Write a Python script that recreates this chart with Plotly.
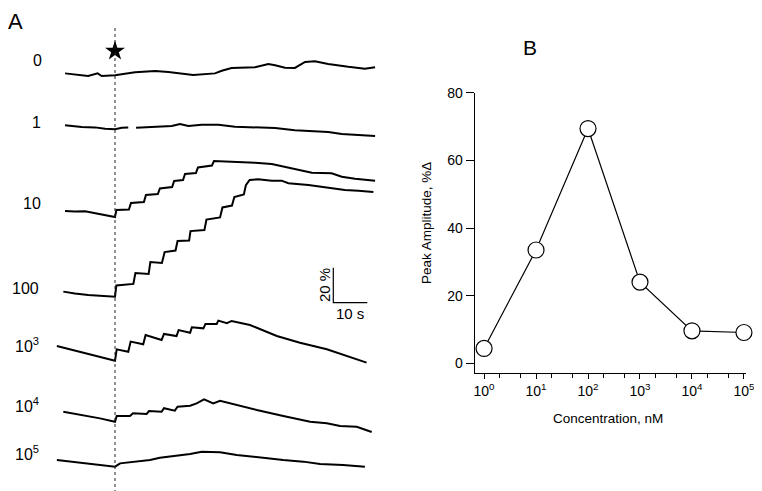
import plotly.graph_objects as go

W, H = 762, 491
PAGE_OFF = 8  # browser body margin

# ---------------- Panel A: calcium traces (time in s from stimulus, value in % change) ----------------
conc_labels = ["0", "1", "10", "100", "10<sup>3</sup>", "10<sup>4</sup>", "10<sup>5</sup>"]

t_0 = [-14.7, -7.9, -5.1, -3.9, 0, 5.9, 11.8, 15.7, 23.0, 29.4, 31.4, 34.3, 41.2, 45.1, 47.1, 50.0,
       52.9, 55.9, 58.8, 62.7, 68.6, 73.5, 76.5]
v_0 = [1.1, -0.4, 1.1, -0.4, 0, 1.7, 2.5, 1.9, 0.2, 1.1, 2.6, 4.2, 4.6, 6.5, 5.7, 4.3,
       4.2, 7.6, 8.0, 6.5, 4.9, 3.8, 4.6]

t_1 = [-14.7, -9.8, -5.9, -2.9, 0, 2.0, 3.9, 5.0, 6.2, 11.8, 16.7, 19.1, 21.6, 25.5, 30.4, 35.3,
       41.2, 47.1, 52.9, 57.8, 62.7, 66.7, 70.6, 76.5]
v_1 = [2.3, 1.3, 1.1, 0.3, 0, 0.9, 1.1, None, 0.9, 1.5, 1.9, 3.0, 1.9, 2.6, 2.6, 1.5,
       0.9, 0.7, -0.6, -1.1, -1.5, -2.7, -3.1, -3.8]

t_10 = [-14.7, -11.8, -8.8, -5.0, -2.1, 0, 0.4, 4.1, 4.7, 8.5, 9.1, 12.6, 13.2, 16.8, 17.4, 20.0,
        20.6, 23.8, 24.4, 28.5, 29.1, 35.3, 41.2, 46.1, 52.9, 57.9, 63.7, 66.7, 70.6, 76.5]
v_10 = [3.4, 3.1, 3.3, 2.0, 1.1, 0, 4.0, 4.3, 8.0, 8.6, 12.6, 13.1, 16.3, 17.1, 20.6, 21.1,
        24.6, 25.1, 28.3, 29.4, 32.0, 31.6, 31.0, 30.3, 27.3, 25.3, 25.0, 23.0, 21.9, 20.7]

t_100 = [-15.2, -11.8, -7.9, -4.4, 0, 0.4, 5.4, 6.0, 9.9, 10.4, 13.8, 14.6, 17.8, 18.4, 21.8, 22.2,
         26.3, 26.9, 30.9, 31.6, 34.4, 35.1, 37.9, 38.5, 39.6, 42.1, 46.1, 49.0, 51.0, 56.9, 62.7,
         67.6, 71.6, 76.0]
v_100 = [2.9, 1.8, 1.0, 0.7, 0, 6.4, 7.3, 13.5, 13.0, 19.8, 19.3, 25.5, 26.4, 31.8, 32.1, 37.5,
         38.1, 44.1, 45.3, 51.0, 52.1, 57.0, 58.4, 63.8, 66.7, 67.1, 66.3, 66.3, 64.8, 63.8, 62.5,
         61.0, 60.6, 59.8]

t_1e3 = [-17.1, -11.3, -5.4, 0, 0.5, 3.9, 4.6, 8.3, 9.0, 13.7, 14.4, 18.1, 18.7, 22.1, 22.6, 26.0,
         26.6, 29.9, 30.4, 32.9, 34.3, 39.7, 47.6, 54.4, 62.3, 69.1, 74.0]
v_1e3 = [8.4, 5.7, 2.7, 0, 6.5, 5.1, 10.9, 9.4, 14.7, 11.8, 15.3, 14.1, 17.5, 16.0, 19.1, 18.5,
         21.0, 21.0, 22.9, 21.4, 22.7, 20.4, 14.1, 10.3, 6.5, 2.3, -1.1]

t_1e4 = [-15.2, -9.3, -4.4, 0, 0.5, 4.4, 5.3, 9.3, 10.0, 13.7, 14.4, 17.6, 18.4, 22.1, 24.0, 26.2,
         28.9, 30.9, 35.8, 41.7, 49.5, 57.4, 62.3, 66.2, 71.1, 75.5]
v_1e4 = [5.7, 3.8, 1.9, 0, 3.3, 3.3, 4.8, 4.4, 6.1, 5.7, 7.7, 6.3, 8.6, 9.1, 10.5, 12.8,
         10.5, 12.0, 9.5, 6.7, 3.3, 0, -0.9, -2.5, -2.9, -5.9]

t_1e5 = [-17.1, -11.3, -5.4, 0, 1.5, 5.4, 10.3, 13.2, 18.1, 22.1, 25.5, 30.9, 35.8, 42.6, 49.5,
         55.4, 60.3, 67.1, 73.5]
v_1e5 = [3.8, 2.5, 1.4, 0, 1.9, 2.9, 3.8, 5.1, 6.3, 7.2, 8.6, 8.2, 6.7, 5.1, 3.8,
         2.9, 1.5, 1.0, 0]

trace_times = [t_0, t_1, t_10, t_100, t_1e3, t_1e4, t_1e5]
trace_values = [v_0, v_1, v_10, v_100, v_1e3, v_1e4, v_1e5]

# ---------------- Panel B: dose-response ----------------
concentration_nM = [1, 10, 100, 1000, 10000, 100000]
peak_amplitude = [4.4, 33.5, 69.4, 24.0, 9.6, 9.1]
x_tick_vals = [1, 10, 100, 1000, 10000, 100000]
x_tick_text = ["10<sup>0</sup>", "10<sup>1</sup>", "10<sup>2</sup>", "10<sup>3</sup>",
               "10<sup>4</sup>", "10<sup>5</sup>"]
y_tick_vals = [0, 20, 40, 60, 80]

# ---------------- layout helpers (page-pixel geometry) ----------------
PX_PER_S = 3.4
PX_PER_PCT = 1.75
STIM_PX = 115.0
baseline_px = [75.3, 129.3, 217.0, 296.7, 360.7, 421.7, 466.7]
label_px = [(44, 60.7), (43, 122.7), (43, 203.3), (41, 288.3), (41, 345), (41, 405), (41, 453.3)]


def t_of_px(x):
    return (x - STIM_PX) / PX_PER_S


def y_of_px(y):
    return (H + PAGE_OFF - y) / PX_PER_PCT


def fx(x):
    return (x - PAGE_OFF) / W


def fy(y):
    return 1 - (y - PAGE_OFF) / H


FONT = "Liberation Sans, Arial, sans-serif"

fig = go.Figure()

for ts, vs, bpx in zip(trace_times, trace_values, baseline_px):
    off = y_of_px(bpx)
    fig.add_trace(go.Scatter(
        x=ts, y=[None if v is None else v + off for v in vs],
        mode="lines", line=dict(color="black", width=2),
        connectgaps=False, hoverinfo="skip", showlegend=False,
        xaxis="x", yaxis="y"))

# star marking stimulus
fig.add_trace(go.Scatter(
    x=[0], y=[y_of_px(51)], mode="markers",
    marker=dict(symbol="star", size=15, color="black", line=dict(width=0)),
    showlegend=False, hoverinfo="skip", xaxis="x", yaxis="y"))

# scale bar (10 s, 20 %)
sb_t0 = t_of_px(333.3)
sb_y0 = y_of_px(302.7)
fig.add_trace(go.Scatter(
    x=[sb_t0, sb_t0, sb_t0 + 10], y=[sb_y0 + 20, sb_y0, sb_y0],
    mode="lines", line=dict(color="black", width=1.2),
    showlegend=False, hoverinfo="skip", xaxis="x", yaxis="y"))

# Panel B
fig.add_trace(go.Scatter(
    x=concentration_nM, y=peak_amplitude, mode="lines+markers",
    line=dict(color="black", width=1.2),
    marker=dict(symbol="circle", size=16, color="white", line=dict(color="black", width=1.2)),
    cliponaxis=False, showlegend=False, xaxis="x2", yaxis="y2"))

shapes = [dict(type="line", xref="x", yref="y", x0=0, x1=0, y0=0, y1=y_of_px(28),
               line=dict(color="#222", width=1, dash="dot"))]

annotations = []
for (lx, ly), txt in zip(label_px, conc_labels):
    annotations.append(dict(x=fx(lx), y=fy(ly), xref="paper", yref="paper", text=txt,
                            showarrow=False, xanchor="right", yanchor="middle",
                            font=dict(family=FONT, size=16, color="black")))
annotations += [
    dict(x=fx(7), y=fy(PAGE_OFF), xref="paper", yref="paper", text="A", showarrow=False,
         xanchor="left", yanchor="top", borderpad=0,
         font=dict(family=FONT, size=22, color="black")),
    dict(x=fx(530), y=fy(48), xref="paper", yref="paper", text="B", showarrow=False,
         xanchor="center", yanchor="middle", font=dict(family=FONT, size=21, color="black")),
    dict(x=fx(324), y=fy(285), xref="paper", yref="paper", text="20 %", showarrow=False,
         textangle=-90, xanchor="center", yanchor="middle",
         font=dict(family=FONT, size=15, color="black")),
    dict(x=fx(350), y=fy(313), xref="paper", yref="paper", text="10 s", showarrow=False,
         xanchor="center", yanchor="middle", font=dict(family=FONT, size=15, color="black")),
    dict(x=fx(427), y=fy(223), xref="paper", yref="paper", text="Peak Amplitude, %Δ",
         showarrow=False, textangle=-90, xanchor="center", yanchor="middle",
         font=dict(family=FONT, size=13.5, color="black")),
    dict(x=fx(608), y=fy(418), xref="paper", yref="paper", text="Concentration, nM",
         showarrow=False, xanchor="center", yanchor="middle",
         font=dict(family=FONT, size=13.5, color="black")),
]

fig.update_layout(
    template="none",
    width=W, height=H, margin=dict(l=0, r=0, t=0, b=0),
    paper_bgcolor="white", plot_bgcolor="rgba(0,0,0,0)",
    font=dict(family=FONT, color="black"),
    showlegend=False,
    xaxis=dict(domain=[0, 1], range=[t_of_px(PAGE_OFF), t_of_px(PAGE_OFF + W)], visible=False,
               fixedrange=True, automargin=False),
    yaxis=dict(domain=[0, 1], range=[0, H / PX_PER_PCT], visible=False, fixedrange=True,
               automargin=False),
    xaxis2=dict(domain=[fx(474.7), fx(745.5)], anchor="y2", type="log", range=[-0.18, 5.03],
                automargin=False,
                showline=True, linecolor="black", linewidth=1, showgrid=False, zeroline=False,
                ticks="outside", ticklen=5, tickcolor="black", tickwidth=1,
                tickvals=x_tick_vals, ticktext=x_tick_text,
                tickfont=dict(family=FONT, size=14, color="black"),
                minor=dict(ticks="outside", ticklen=4, tickcolor="black", showgrid=False)),
    yaxis2=dict(domain=[fy(372.7), fy(92.7)], anchor="x2", range=[-2.78, 80],
                automargin=False,
                showline=True, linecolor="black", linewidth=1, showgrid=False, zeroline=False,
                ticks="outside", ticklen=8, tickcolor="black", tickwidth=1,
                tickvals=y_tick_vals,
                tickfont=dict(family=FONT, size=14, color="black")),
    shapes=shapes, annotations=annotations,
)

fig.write_html("out.html")
